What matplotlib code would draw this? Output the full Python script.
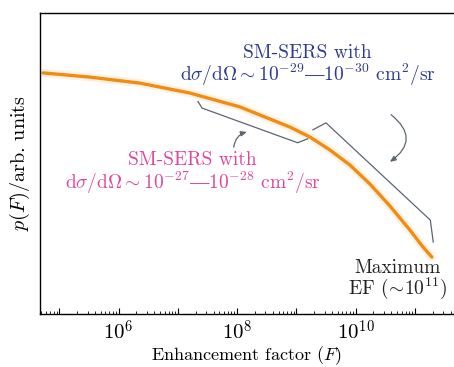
import matplotlib
matplotlib.use("Agg")
import matplotlib.pyplot as plt
from matplotlib.ticker import LogLocator, FuncFormatter, NullFormatter
import numpy as np

# curve: log10(F) and p(F) in arb. units (0..1 axis)
log_f = [4.725, 5.518, 6.361, 7.205, 8.048, 8.892, 9.229, 9.566, 9.904,
         10.241, 10.578, 10.916, 11.135, 11.287]
p_f = [0.801, 0.787, 0.767, 0.734, 0.688, 0.621, 0.588, 0.545, 0.495,
       0.432, 0.359, 0.279, 0.223, 0.189]

# gray brackets marking the two SM-SERS regions
bracket1_logf = [7.34, 7.41, 9.02, 9.19]
bracket1_p = [0.706, 0.684, 0.569, 0.582]
bracket2_logf = [9.28, 9.50, 11.26, 11.31]
bracket2_p = [0.612, 0.635, 0.312, 0.239]

labelled_exps = [6, 8, 10]

BLUE = '#2e3a8e'
PINK = '#e0449c'
GRAY = '#5c6570'
ORANGE = '#f08c14'

plt.rcParams['font.family'] = ['cmr10', 'DejaVu Serif']
plt.rcParams['mathtext.fontset'] = 'cm'
plt.rcParams['axes.formatter.use_mathtext'] = True

fig = plt.figure(figsize=(4.54, 3.67), dpi=100)
ax = fig.add_axes([40 / 454, 53 / 367, 414 / 454, 301 / 367])

F = 10 ** np.array(log_f)
ax.plot(F, p_f, color=ORANGE, lw=6, alpha=0.12, solid_capstyle='round')
ax.plot(F, p_f, color=ORANGE, lw=2.4, solid_capstyle='round')
ax.plot(10 ** np.array(bracket1_logf), bracket1_p, color=GRAY, lw=0.9)
ax.plot(10 ** np.array(bracket2_logf), bracket2_p, color=GRAY, lw=0.9)

# curly arrows
arrow_kw = dict(arrowstyle='-|>,head_length=0.35,head_width=0.15', color=GRAY, lw=0.9)
ax.annotate('', xy=(10 ** 8.21, 0.607), xytext=(10 ** 7.94, 0.545),
            arrowprops=dict(connectionstyle='arc3,rad=-0.4', **arrow_kw))
ax.annotate('', xy=(10 ** 10.54, 0.500), xytext=(10 ** 10.56, 0.668),
            arrowprops=dict(connectionstyle='arc3,rad=-0.7', **arrow_kw))

EMDASH = '$\u2014$'


def cross_section(a, b):
    return (r'd$\sigma$/d$\mathit{\Omega}\sim10^{-%d}$' % a + EMDASH
            + r'$10^{-%d}$ cm$^{2}$/sr' % b)


fs = 14
ax.text(10 ** 9.19, 0.866, 'SM-SERS with', color=BLUE, fontsize=fs,
        ha='center', va='center')
ax.text(10 ** 9.19, 0.795, cross_section(29, 30),
        color=BLUE, fontsize=fs, ha='center', va='center')
ax.text(10 ** 7.25, 0.513, 'SM-SERS with', color=PINK, fontsize=fs,
        ha='center', va='center')
ax.text(10 ** 7.25, 0.437, cross_section(27, 28),
        color=PINK, fontsize=fs, ha='center', va='center')
ax.text(10 ** 10.70, 0.153, 'Maximum', color='#222222', fontsize=fs,
        ha='center', va='center')
ax.text(10 ** 10.70, 0.085, r'EF ($\!\sim\!10^{11}$)', color='#222222', fontsize=fs,
        ha='center', va='center')

ax.set_xscale('log')
ax.set_xlim(10 ** 4.674, 10 ** 11.66)
ax.set_ylim(0, 1)

ax.xaxis.set_major_locator(LogLocator(base=10, numticks=20))
ax.xaxis.set_minor_locator(LogLocator(base=10, subs=np.arange(2, 10), numticks=20))
ax.xaxis.set_major_formatter(FuncFormatter(
    lambda v, pos: r'$10^{%d}$' % round(np.log10(v)) if round(np.log10(v)) in labelled_exps else ''))
ax.xaxis.set_minor_formatter(NullFormatter())
ax.tick_params(axis='x', which='major', direction='in', length=4, width=0.8, labelsize=15, pad=4)
ax.tick_params(axis='x', which='minor', direction='in', length=2, width=0.6)
ax.set_yticks([])

ax.spines['right'].set_visible(False)
for s in ['left', 'top', 'bottom']:
    ax.spines[s].set_linewidth(1.0)

ax.set_xlabel(r'Enhancement factor ($F$)', fontsize=13, labelpad=0.5)
ax.set_ylabel(r'$p(F)$/arb. units', fontsize=14.5, labelpad=6)

fig.savefig('out.png', dpi=100)
